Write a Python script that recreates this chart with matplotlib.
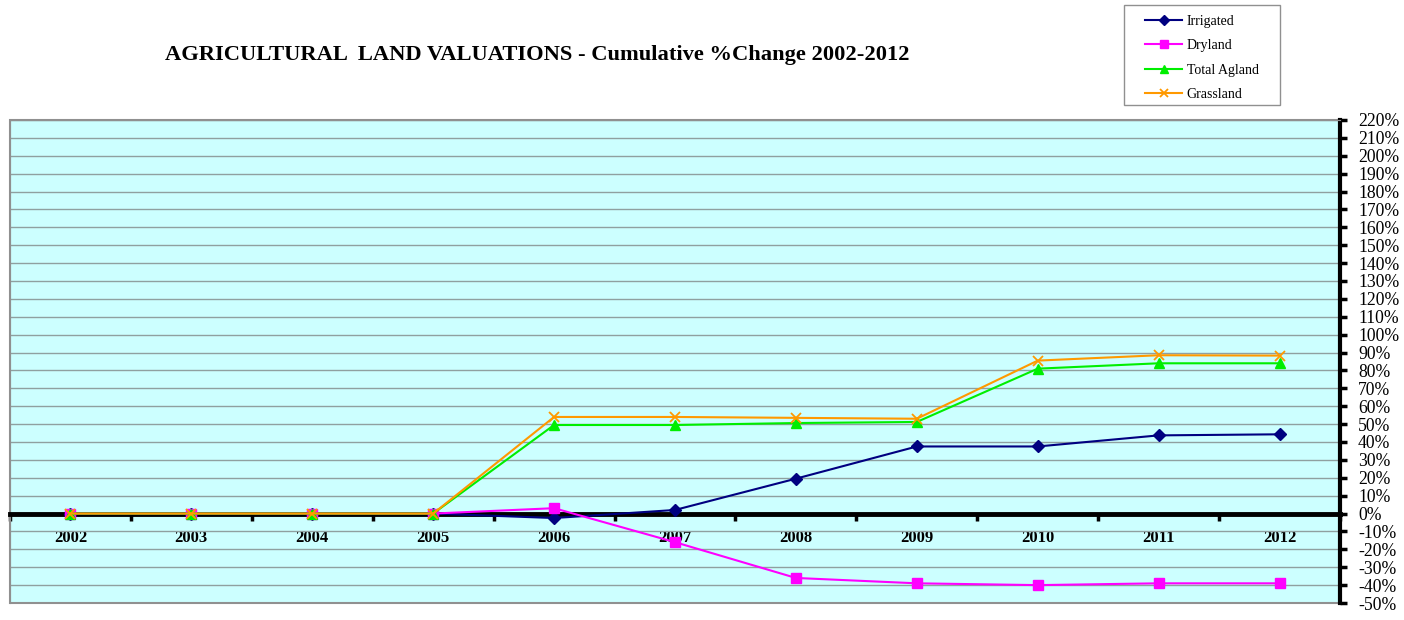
import matplotlib.pyplot as plt
from matplotlib.patches import Rectangle
from matplotlib.ticker import FixedLocator, FuncFormatter

plt.rcParams['font.family'] = ['Liberation Serif', 'DejaVu Serif']

years = ["2002", "2003", "2004", "2005", "2006", "2007", "2008", "2009", "2010", "2011", "2012"]
irrigated = [0, 0, 0, 0, -2.5, 2, 19.5, 37.5, 37.5, 43.7, 44.3]
dryland = [0, 0, 0, 0, 3, -16, -36, -39, -40, -39, -39]
total_agland = [0, 0, 0, 0, 49.5, 49.5, 50.6, 51.2, 81, 84, 84]
grassland = [0, 0, 0, 0, 54, 54, 53.5, 53, 85.5, 88.5, 88.3]

x = list(range(len(years)))

fig = plt.figure(figsize=(14.04, 6.2), dpi=100)
ax = fig.add_axes([10 / 1404, 17 / 620, 1330 / 1404, 483 / 620])
ax.set_facecolor('#ccffff')

ax.plot(x, irrigated, color='#000080', marker='D', markersize=6, lw=1.5, label='Irrigated', zorder=3)
ax.plot(x, dryland, color='#ff00ff', marker='s', markersize=7, lw=1.5, label='Dryland', zorder=3)
ax.plot(x, total_agland, color='#00ee00', marker='^', markersize=7, lw=1.5, label='Total Agland', zorder=3)
ax.plot(x, grassland, color='#ff9900', marker='x', markersize=7, mew=1.3, lw=1.5, label='Grassland', zorder=3)

ax.set_xlim(-0.5, len(years) - 0.5)
ax.set_ylim(-50, 220)

# y axis on the right
ax.yaxis.tick_right()
ax.set_yticks(range(-50, 221, 10))
ax.yaxis.set_major_formatter(FuncFormatter(lambda v, p: f"{int(v)}%"))
ax.tick_params(axis='y', direction='out', length=5, width=2.5, labelsize=12.7, pad=8)
ax.grid(axis='y', color='#8fa0a0', lw=1)
ax.set_axisbelow(True)

# category axis sits on the zero line
ax.spines['bottom'].set_position(('data', 0))
ax.spines['bottom'].set_linewidth(3.5)
ax.spines['bottom'].set_color('black')
ax.set_xticks(x)
ax.set_xticklabels(years, fontweight='bold', fontsize=12)
ax.xaxis.set_minor_locator(FixedLocator([i - 0.5 for i in x] + [len(years) - 0.5]))
ax.tick_params(axis='x', which='major', length=0, pad=12)
ax.tick_params(axis='x', which='minor', direction='out', length=5, width=2.5)

ax.spines['right'].set_linewidth(3)
ax.spines['right'].set_color('black')
ax.spines['left'].set_color('#909090')
ax.spines['top'].set_color('#909090')
ax.add_patch(Rectangle((0, 0), 1, 1, transform=ax.transAxes, fill=False,
                       ec='#909090', lw=1.5, clip_on=False, zorder=1))

fig.text(537 / 1404, 1 - 55 / 620, "AGRICULTURAL  LAND VALUATIONS - Cumulative %Change 2002-2012",
         ha='center', va='center', fontsize=16.2, fontweight='bold')

# legend box
fig.patches.append(Rectangle((1124 / 1404, 1 - 105 / 620), 156 / 1404, 100 / 620,
                             transform=fig.transFigure, fill=False, ec='#909090', lw=1))
leg = fig.legend(loc='upper left', bbox_to_anchor=(1131 / 1404, 1 - 1 / 620), fontsize=10,
                 frameon=False, handlelength=2.7, handletextpad=0.3,
                 labelspacing=0.82, borderpad=0.5, markerscale=0.85)

fig.savefig("out.png", dpi=100)
